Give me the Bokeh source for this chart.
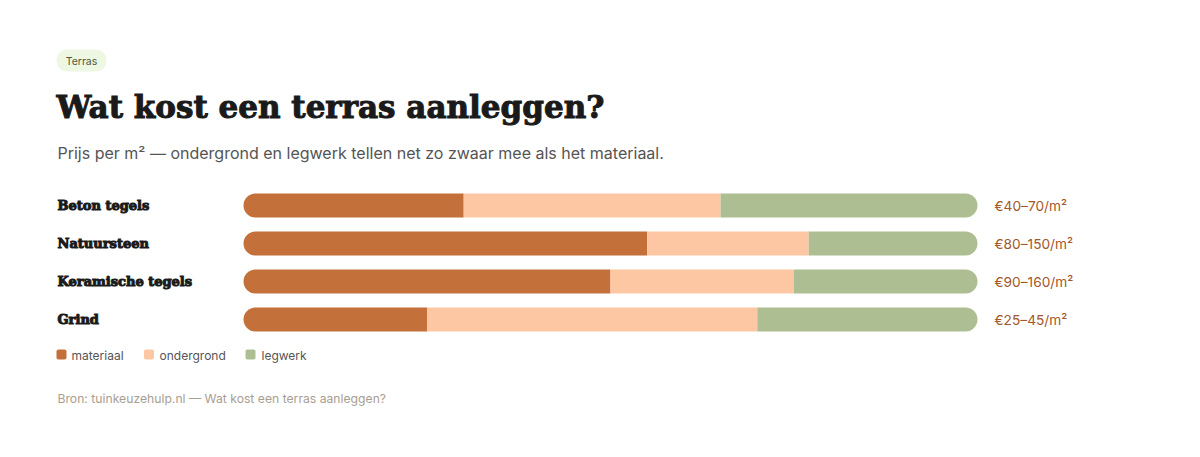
from bokeh.plotting import figure
from bokeh.models import Range1d, ColumnDataSource
from bokeh.core.properties import value
from bokeh.embed import file_html
from bokeh.resources import INLINE

# ---------------- data ----------------
categories = ["Beton tegels", "Natuursteen", "Keramische tegels", "Grind"]
materiaal = [30, 55, 50, 25]
ondergrond = [35, 22, 25, 45]
legwerk = [35, 23, 25, 30]
price_labels = ["€40–70/m²", "€80–150/m²", "€90–160/m²", "€25–45/m²"]
series_names = ["materiaal", "ondergrond", "legwerk"]
series_colors = ["#c4703a", "#fdc7a4", "#adbe92"]

title = "Wat kost een terras aanleggen?"
subtitle = "Prijs per m² — ondergrond en legwerk tellen net zo zwaar mee als het materiaal."
chip = "Terras"
source_note = "Bron: tuinkeuzehulp.nl — Wat kost een terras aanleggen?"

# ---------------- layout ----------------
W, H = 1184, 441
X0, X100 = 243.0, 977.0          # canvas px of value 0 and 100
PXU = (X100 - X0) / 100.0
ROW0, ROWSTEP = 205.0, 38.0      # canvas px of first row center, row spacing

def dx(px):
    return (px - X0) / PXU

def dy(py):
    return (py - ROW0) / ROWSTEP

p = figure(width=W, height=H, output_backend="svg", toolbar_location=None,
           x_axis_location=None, y_axis_location=None, min_border=0,
           x_range=Range1d(-X0 / PXU, (W - X0) / PXU),
           y_range=Range1d((H - ROW0) / ROWSTEP, -ROW0 / ROWSTEP))
p.grid.visible = False
p.outline_line_color = None
p.background_fill_color = "white"
p.border_fill_color = "white"

rows = list(range(len(categories)))
left1 = [0] * len(rows)
right1 = materiaal
right2 = [a + b for a, b in zip(materiaal, ondergrond)]
right3 = [a + b + c for a, b, c in zip(materiaal, ondergrond, legwerk)]
bh = 24 / ROWSTEP

src = ColumnDataSource(dict(y=rows, l1=left1, r1=right1, r2=right2, r3=right3))
p.hbar(y="y", left="l1", right="r1", height=bh, source=src,
       fill_color=series_colors[0], line_color=None, border_radius=(12, 0, 0, 12))
p.hbar(y="y", left="r1", right="r2", height=bh, source=src,
       fill_color=series_colors[1], line_color=None)
p.hbar(y="y", left="r2", right="r3", height=bh, source=src,
       fill_color=series_colors[2], line_color=None, border_radius=(0, 12, 12, 0))

# category labels
p.text(x=[dx(57)] * len(rows), y=rows, text=categories,
       text_font=value("DejaVu Serif"), text_font_style="bold",
       text_font_size="13px", text_color="#1a1a1a", text_outline_color="#1a1a1a",
       text_baseline="middle", text_align="left")

# price labels
p.text(x=[dx(994)] * len(rows), y=rows, text=price_labels,
       text_font=value("Inter"), text_font_size="13.7px", text_color="#a3582c",
       text_baseline="middle", text_align="left")

# chip
p.quad(left=[dx(56)], right=[dx(106)], top=[dy(49)], bottom=[dy(71)],
       fill_color="#eef7e1", line_color=None, border_radius=11)
p.text(x=[dx(81)], y=[dy(60.5)], text=[chip], text_font=value("Inter"),
       text_font_size="10.5px", text_color="#4a5a3a",
       text_baseline="middle", text_align="center")

# title & subtitle
p.text(x=[dx(56)], y=[dy(106)], text=[title], text_font=value("DejaVu Serif"),
       text_font_style="bold", text_font_size="31px", text_color="#1a1a1a",
       text_outline_color="#1a1a1a",
       text_baseline="middle", text_align="left")
p.text(x=[dx(57)], y=[dy(152.5)], text=[subtitle], text_font=value("Inter"),
       text_font_size="16px", text_color="#555555",
       text_baseline="middle", text_align="left")

# legend
leg_sq_x = [61, 148.5, 250]
leg_tx_x = [71, 159, 261]
for i in range(3):
    p.quad(left=[dx(leg_sq_x[i] - 5)], right=[dx(leg_sq_x[i] + 5)],
           top=[dy(349)], bottom=[dy(359)], fill_color=series_colors[i],
           line_color=None, border_radius=2)
p.text(x=[dx(v) for v in leg_tx_x], y=[dy(354.5)] * 3, text=series_names,
       text_font=value("Inter"), text_font_size="12px", text_color="#555555",
       text_baseline="middle", text_align="left")

# source
p.text(x=[dx(57)], y=[dy(397.5)], text=[source_note], text_font=value("Inter"),
       text_font_size="12.2px", text_color="#a89e92",
       text_baseline="middle", text_align="left")

open("out.html", "w").write(file_html(p, INLINE))
